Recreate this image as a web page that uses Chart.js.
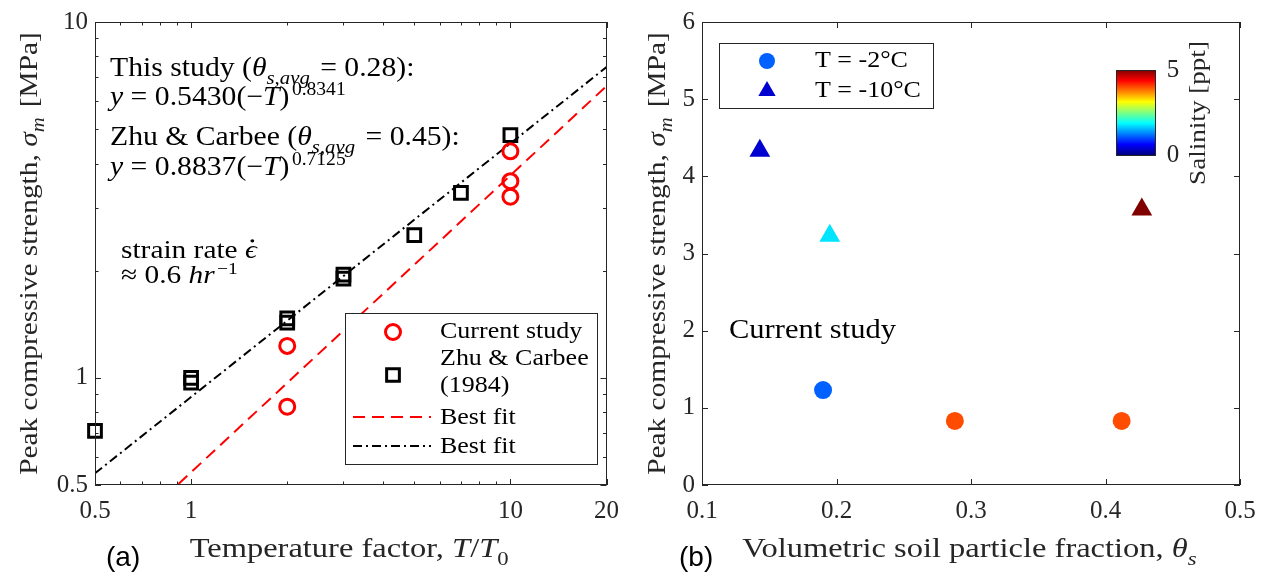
<!DOCTYPE html>
<html>
<head>
<meta charset="utf-8">
<title>Peak compressive strength of frozen saline soil</title>
<script src="https://cdn.jsdelivr.net/npm/chart.js@4.4.1/dist/chart.umd.min.js"></script>
<style>
  html, body { margin: 0; padding: 0; background: #fff; }
  #wrap { position: relative; width: 1267px; height: 580px; overflow: hidden; }
  #cA { position: absolute; left: 0; top: 0; }
  #cB { position: absolute; left: 630px; top: 0; }
</style>
</head>
<body>
<div id="wrap">
  <canvas id="cA" width="630" height="580"></canvas>
  <canvas id="cB" width="637" height="580"></canvas>
</div>
<script>
// ---------- panel (a): strength vs temperature factor (log-log) ----------
const tempFactorCurrent = [2, 2, 10, 10, 10];
const strengthCurrent   = [1.23, 0.83, 4.33, 3.57, 3.23];
const tempFactorZhu     = [0.5, 1, 1, 2, 2, 3, 3, 5, 7, 10];
const strengthZhu       = [0.71, 0.97, 1.0, 1.43, 1.47, 1.9, 1.95, 2.52, 3.31, 4.81];
const fitCurrent        = [0.5430, 0.8341];   // y = a(-T)^b : [a, b]
const fitZhu            = [0.8837, 0.7125];
const tempFactorRange   = [0.5, 20];
const strengthRangeA    = [0.5, 10];
const tempTicksMajor    = [0.5, 1, 10, 20];
const tempTicksMinor    = [0.6, 0.7, 0.8, 0.9, 2, 3, 4, 5, 6, 7, 8, 9];
const strengthTicksMajorA = [0.5, 1, 10];
const strengthTicksMinorA = [0.6, 0.7, 0.8, 0.9, 2, 3, 4, 5, 6, 7, 8, 9];

// ---------- panel (b): strength vs soil particle fraction ----------
const soilFractionWarm = [0.19, 0.288, 0.412];   // T = -2 °C
const strengthWarm     = [1.23, 0.83, 0.83];
const salinityWarm     = [1.1, 4.0, 4.0];
const soilFractionCold = [0.143, 0.195, 0.427];  // T = -10 °C
const strengthCold     = [4.33, 3.23, 3.57];
const salinityCold     = [0.4, 1.75, 5.0];
const soilTicks        = [0.1, 0.2, 0.3, 0.4, 0.5];
const strengthTicksB   = [0, 1, 2, 3, 4, 5, 6];
const salinityRange    = [0, 5];

// ---------- styling helpers ----------
const SERIF = '"Liberation Serif", "Times New Roman", serif';
const SANS = '"Liberation Sans", Arial, sans-serif';
const INK = '#262626';
const STRETCH = 1.13;

const pairs = (xs, ys) => xs.map((x, i) => ({ x, y: ys[i] }));
const powerLine = (c, xs) => xs.map(x => ({ x, y: c[0] * Math.pow(x, c[1]) }));

function jetColor(s) {
  const t = (s - salinityRange[0]) / (salinityRange[1] - salinityRange[0]);
  const c = k => Math.round(255 * Math.min(1, Math.max(0, 1.5 - Math.abs(4 * t - k))));
  return `rgb(${c(3)},${c(2)},${c(1)})`;
}

function fontStr(size, italic) {
  return (italic ? 'italic ' : '') + size.toFixed(1) + 'px ' + SERIF;
}

// runs: [text, flags]; flags: i = italic, b = subscript, p = superscript, d = dot accent
function layoutRuns(ctx, runs, size) {
  let w = 0;
  const items = [];
  for (const [t, f = ''] of runs) {
    const sub = f.includes('b'), sup = f.includes('p');
    const sz = sub ? size * 0.7 : (sup ? size * 0.66 : size);
    const font = fontStr(sz, f.includes('i'));
    ctx.font = font;
    const dy = sub ? size * 0.28 : (sup ? -size * 0.36 : 0);
    const lead = sup ? size * 0.08 : 0;
    const tail = sub ? size * 0.1 : 0;
    const mw = ctx.measureText(t).width;
    items.push({ t, font, x: w + lead, w: mw, dy, dot: f.includes('d'), sz });
    w += lead + mw + tail;
  }
  return { items, width: w };
}

function drawRich(ctx, runs, x, y, size, o = {}) {
  const align = o.align || 'left';
  const L = layoutRuns(ctx, runs, size);
  ctx.save();
  ctx.translate(x, y);
  if (o.angle) ctx.rotate(o.angle);
  ctx.scale(o.stretch || STRETCH, 1);
  const x0 = align === 'center' ? -L.width / 2 : (align === 'right' ? -L.width : 0);
  ctx.fillStyle = o.color || '#000';
  ctx.textAlign = 'left';
  ctx.textBaseline = 'alphabetic';
  for (const it of L.items) {
    ctx.font = it.font;
    ctx.fillText(it.t, x0 + it.x, it.dy);
    if (it.dot) {
      ctx.beginPath();
      ctx.arc(x0 + it.x + it.w * 0.62, it.dy - it.sz * 0.66, it.sz * 0.065, 0, Math.PI * 2);
      ctx.fill();
    }
  }
  ctx.restore();
}

function drawMarker(ctx, style, x, y, r, o) {
  ctx.save();
  ctx.beginPath();
  if (style === 'circle') {
    ctx.arc(x, y, r, 0, Math.PI * 2);
  } else if (style === 'rect') {
    const h = r * Math.SQRT1_2;
    ctx.rect(x - h, y - h, 2 * h, 2 * h);
  } else if (style === 'triangle') {
    let a = 0;
    ctx.moveTo(x + Math.sin(a) * r, y - Math.cos(a) * r);
    a += 2 * Math.PI / 3;
    ctx.lineTo(x + Math.sin(a) * r, y - Math.cos(a) * r);
    a += 2 * Math.PI / 3;
    ctx.lineTo(x + Math.sin(a) * r, y - Math.cos(a) * r);
    ctx.closePath();
  }
  if (o.fill) { ctx.fillStyle = o.fill; ctx.fill(); }
  if (o.stroke) { ctx.strokeStyle = o.stroke; ctx.lineWidth = o.lw || 1; ctx.stroke(); }
  ctx.restore();
}

// Box around the plot area with inward tick marks on all four sides
const frameTicks = {
  id: 'frameTicks',
  afterDatasetsDraw(chart, args, opts) {
    const { ctx, chartArea: a, scales: { x, y } } = chart;
    ctx.save();
    ctx.strokeStyle = INK;
    ctx.lineWidth = 1;
    ctx.beginPath();
    const tickX = (vals, len) => vals.forEach(v => {
      const px = Math.round(x.getPixelForValue(v)) + 0.5;
      ctx.moveTo(px, a.bottom); ctx.lineTo(px, a.bottom - len);
      ctx.moveTo(px, a.top); ctx.lineTo(px, a.top + len);
    });
    const tickY = (vals, len) => vals.forEach(v => {
      const py = Math.round(y.getPixelForValue(v)) + 0.5;
      ctx.moveTo(a.left, py); ctx.lineTo(a.left + len, py);
      ctx.moveTo(a.right, py); ctx.lineTo(a.right - len, py);
    });
    tickX(opts.xMajor || [], 6);
    tickX(opts.xMinor || [], 3.5);
    tickY(opts.yMajor || [], 6);
    tickY(opts.yMinor || [], 3.5);
    ctx.stroke();
    ctx.strokeRect(Math.round(a.left) + 0.5, Math.round(a.top) + 0.5,
                   Math.round(a.width) - 1, Math.round(a.height) - 1);
    ctx.restore();
  }
};

const tickFont = { family: SERIF, size: 25 };
const TITLE_SIZE = 28;
const TITLE_STRETCH = 1.16;
const EQ = { stretch: 1.1 };

// ---------- panel (a) ----------
const panelA = {
  id: 'panelA',
  afterDraw(chart) {
    const { ctx, chartArea: a } = chart;
    // axis titles
    drawRich(ctx, [['Temperature factor, '], ['T', 'i'], ['/'], ['T', 'i'], ['0', 'b']],
      (a.left + a.right) / 2, a.bottom + 72, TITLE_SIZE, { align: 'center', color: INK, stretch: TITLE_STRETCH });
    drawRich(ctx, [['Peak compressive strength, '], ['σ', 'i'], ['m', 'ib'], [' [MPa]']],
      37, (a.top + a.bottom) / 2, 26, { align: 'center', angle: -Math.PI / 2, color: INK });
    // fit equations
    drawRich(ctx, [['This study ('], ['θ', 'i'], ['s,avg', 'ib'], [' = 0.28):']], 110, 76, 27, EQ);
    drawRich(ctx, [['y', 'i'], [' = ' + fitCurrent[0].toFixed(4) + '(−'], ['T', 'i'], [')'], [fitCurrent[1].toFixed(4), 'p']], 110, 105, 27, EQ);
    drawRich(ctx, [['Zhu & Carbee ('], ['θ', 'i'], ['s,avg', 'ib'], [' = 0.45):']], 110, 145, 27, EQ);
    drawRich(ctx, [['y', 'i'], [' = ' + fitZhu[0].toFixed(4) + '(−'], ['T', 'i'], [')'], [fitZhu[1].toFixed(4), 'p']], 110, 175, 27, EQ);
    drawRich(ctx, [['strain rate '], ['ϵ', 'id']], 121, 258, 26);
    drawRich(ctx, [['≈ 0.6 '], ['hr', 'i'], ['−1', 'p']], 121, 283, 26);
    // legend
    ctx.save();
    ctx.fillStyle = '#fff';
    ctx.fillRect(345, 313, 252, 151);
    ctx.strokeStyle = INK; ctx.lineWidth = 1;
    ctx.strokeRect(345.5, 313.5, 252, 151);
    drawMarker(ctx, 'circle', 393, 332, 7.5, { stroke: '#ff0000', lw: 3 });
    drawMarker(ctx, 'rect', 393, 375, 9, { stroke: '#000', lw: 3 });
    ctx.lineWidth = 2;
    ctx.strokeStyle = '#ff0000'; ctx.setLineDash([12, 7]);
    ctx.beginPath(); ctx.moveTo(353, 417); ctx.lineTo(431, 417); ctx.stroke();
    ctx.strokeStyle = '#000'; ctx.setLineDash([9, 4, 2, 4]);
    ctx.beginPath(); ctx.moveTo(353, 446); ctx.lineTo(431, 446); ctx.stroke();
    ctx.restore();
    drawRich(ctx, [['Current study']], 440, 338, 23);
    drawRich(ctx, [['Zhu & Carbee']], 440, 365, 23);
    drawRich(ctx, [['(1984)']], 440, 392, 23);
    drawRich(ctx, [['Best fit']], 440, 424, 23);
    drawRich(ctx, [['Best fit']], 440, 453, 23);
    // panel letter
    ctx.save();
    ctx.font = '28px ' + SANS; ctx.fillStyle = '#000'; ctx.textBaseline = 'alphabetic';
    ctx.fillText('(a)', 106, 566);
    ctx.restore();
  }
};

new Chart(document.getElementById('cA'), {
  type: 'scatter',
  data: {
    datasets: [
      { label: 'Current study', data: pairs(tempFactorCurrent, strengthCurrent),
        pointStyle: 'circle', pointRadius: 7.5, pointBorderWidth: 3, clip: false,
        pointBorderColor: '#ff0000', pointBackgroundColor: 'rgba(0,0,0,0)', borderColor: '#ff0000' },
      { label: 'Zhu & Carbee (1984)', data: pairs(tempFactorZhu, strengthZhu),
        pointStyle: 'rect', pointRadius: 9, pointBorderWidth: 3, clip: false,
        pointBorderColor: '#000', pointBackgroundColor: 'rgba(0,0,0,0)', borderColor: '#000' },
      { label: 'Best fit', data: powerLine(fitCurrent, tempFactorRange), showLine: true,
        borderColor: '#ff0000', borderWidth: 2, borderDash: [12, 7], pointRadius: 0 },
      { label: 'Best fit', data: powerLine(fitZhu, tempFactorRange), showLine: true,
        borderColor: '#000', borderWidth: 2, borderDash: [9, 4, 2, 4], pointRadius: 0 }
    ]
  },
  options: {
    responsive: false, animation: false, devicePixelRatio: 1,
    events: [],
    layout: { padding: { left: 0, right: 19, top: 22, bottom: 0 } },
    plugins: {
      legend: { display: false }, tooltip: { enabled: false },
      frameTicks: { xMajor: tempTicksMajor, xMinor: tempTicksMinor,
                    yMajor: strengthTicksMajorA, yMinor: strengthTicksMinorA }
    },
    scales: {
      x: {
        type: 'logarithmic', min: tempFactorRange[0], max: tempFactorRange[1],
        afterBuildTicks: s => { s.ticks = tempTicksMajor.map(v => ({ value: v })); },
        afterFit: s => { s.height = 95; },
        ticks: { callback: v => String(v), autoSkip: false, maxRotation: 0, padding: 11, color: INK, font: tickFont },
        grid: { display: false, drawTicks: false }, border: { display: false }
      },
      y: {
        type: 'logarithmic', min: strengthRangeA[0], max: strengthRangeA[1],
        afterBuildTicks: s => { s.ticks = strengthTicksMajorA.map(v => ({ value: v })); },
        afterFit: s => { s.width = 95; },
        ticks: { callback: v => String(v), autoSkip: false, padding: 7, color: INK, font: tickFont },
        grid: { display: false, drawTicks: false }, border: { display: false }
      }
    }
  },
  plugins: [frameTicks, panelA]
});

// ---------- panel (b) ----------
const panelB = {
  id: 'panelB',
  afterDraw(chart) {
    const { ctx, chartArea: a } = chart;
    drawRich(ctx, [['Volumetric soil particle fraction, '], ['θ', 'i'], ['s', 'ib']],
      (a.left + a.right) / 2, a.bottom + 72, TITLE_SIZE, { align: 'center', color: INK, stretch: TITLE_STRETCH });
    drawRich(ctx, [['Peak compressive strength, '], ['σ', 'i'], ['m', 'ib'], [' [MPa]']],
      35, (a.top + a.bottom) / 2, 26, { align: 'center', angle: -Math.PI / 2, color: INK });
    drawRich(ctx, [['Current study']], 99, 338, 27);

    // legend
    ctx.save();
    ctx.fillStyle = '#fff';
    ctx.fillRect(89, 43, 214, 65);
    ctx.strokeStyle = INK; ctx.lineWidth = 1;
    ctx.strokeRect(89.5, 43.5, 214, 65);
    ctx.restore();
    drawMarker(ctx, 'circle', 137, 61, 8, { fill: jetColor(salinityWarm[0]) });
    drawMarker(ctx, 'triangle', 137, 91, 10, { fill: jetColor(salinityCold[0]) });
    drawRich(ctx, [['T = -2°C']], 185, 67, 23);
    drawRich(ctx, [['T = -10°C']], 185, 97, 23);

    // salinity colour bar
    const cb = { x: 486, y: 70, w: 39, h: 85 };
    const g = ctx.createLinearGradient(0, cb.y + cb.h, 0, cb.y);
    [0, 0.125, 0.375, 0.625, 0.875, 1].forEach(t =>
      g.addColorStop(t, jetColor(salinityRange[0] + t * (salinityRange[1] - salinityRange[0]))));
    ctx.save();
    ctx.fillStyle = g;
    ctx.fillRect(cb.x, cb.y, cb.w, cb.h);
    ctx.strokeStyle = INK; ctx.lineWidth = 1;
    ctx.strokeRect(cb.x + 0.5, cb.y + 0.5, cb.w, cb.h);
    ctx.font = tickFont.size + 'px ' + SERIF;
    ctx.fillStyle = INK; ctx.textAlign = 'center'; ctx.textBaseline = 'middle';
    ctx.fillText(String(salinityRange[1]), 543, cb.y);
    ctx.fillText(String(salinityRange[0]), 543, cb.y + cb.h);
    ctx.restore();
    drawRich(ctx, [['Salinity [ppt]']], 575, 113, 24, { align: 'center', angle: -Math.PI / 2, color: INK });

    ctx.save();
    ctx.font = '28px ' + SANS; ctx.fillStyle = '#000'; ctx.textBaseline = 'alphabetic';
    ctx.fillText('(b)', 49, 566);
    ctx.restore();
  }
};

new Chart(document.getElementById('cB'), {
  type: 'scatter',
  data: {
    datasets: [
      { label: 'T = -2°C', data: pairs(soilFractionWarm, strengthWarm),
        pointStyle: 'circle', pointRadius: 9, pointBorderWidth: 0,
        pointBackgroundColor: salinityWarm.map(jetColor), pointBorderColor: salinityWarm.map(jetColor) },
      { label: 'T = -10°C', data: pairs(soilFractionCold, strengthCold),
        pointStyle: 'triangle', pointRadius: 12, pointBorderWidth: 0,
        pointBackgroundColor: salinityCold.map(jetColor), pointBorderColor: salinityCold.map(jetColor) }
    ]
  },
  options: {
    responsive: false, animation: false, devicePixelRatio: 1,
    events: [],
    layout: { padding: { left: 0, right: 27, top: 22, bottom: 0 } },
    plugins: {
      legend: { display: false }, tooltip: { enabled: false },
      frameTicks: { xMajor: soilTicks, yMajor: strengthTicksB }
    },
    scales: {
      x: {
        type: 'linear', min: soilTicks[0], max: soilTicks[soilTicks.length - 1],
        afterBuildTicks: s => { s.ticks = soilTicks.map(v => ({ value: v })); },
        afterFit: s => { s.height = 95; },
        ticks: { callback: v => v.toFixed(1), autoSkip: false, maxRotation: 0, padding: 11, color: INK, font: tickFont },
        grid: { display: false, drawTicks: false }, border: { display: false }
      },
      y: {
        type: 'linear', min: strengthTicksB[0], max: strengthTicksB[strengthTicksB.length - 1],
        afterBuildTicks: s => { s.ticks = strengthTicksB.map(v => ({ value: v })); },
        afterFit: s => { s.width = 72; },
        ticks: { callback: v => String(v), autoSkip: false, padding: 7, color: INK, font: tickFont },
        grid: { display: false, drawTicks: false }, border: { display: false }
      }
    }
  },
  plugins: [frameTicks, panelB]
});
</script>
</body>
</html>
